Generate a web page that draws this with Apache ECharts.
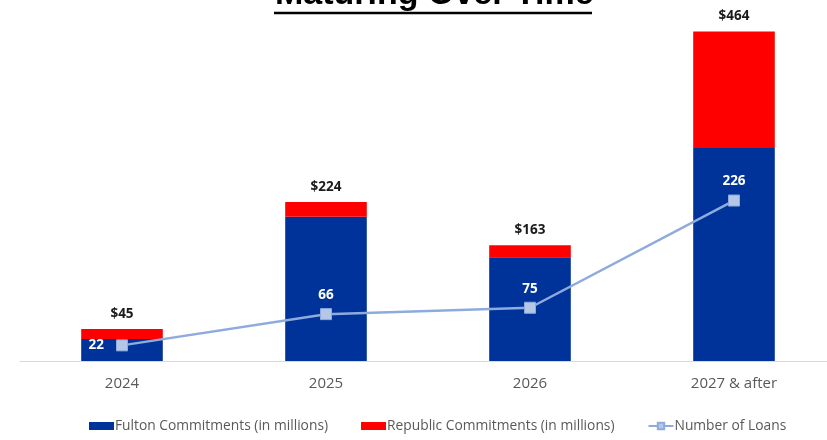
<!DOCTYPE html>
<html>
<head>
<meta charset="utf-8">
<script src="https://cdn.jsdelivr.net/npm/echarts@6/dist/echarts.min.js"></script>
<style>
  html, body { margin: 0; padding: 0; background: #fff; }
  #chart { width: 827px; height: 440px; }
</style>
</head>
<body>
<div id="chart"></div>
<script>
// Maturity buckets and commitments (in millions) plus loan counts
var categories = ['2024', '2025', '2026', '2027 & after'];
var fulton = [31, 203, 146, 300];
var republic = [14, 21, 17, 164];
var loans = [22, 66, 75, 226];

var font = '"Open Sans", "Liberation Sans", sans-serif';
var chart = echarts.init(document.getElementById('chart'), null, { renderer: 'canvas' });

var loanData = loans.map(function (v, i) {
  return {
    value: v,
    label: { position: i === 0 ? 'left' : 'top', distance: i === 0 ? 12 : 6 }
  };
});

chart.setOption({
  animation: false,
  backgroundColor: '#ffffff',
  graphic: [
    {
      type: 'text',
      left: 275,
      top: -22,
      style: {
        text: 'Maturing Over Time',
        font: 'bold 34px "Liberation Sans", sans-serif',
        fill: '#000000'
      }
    },
    {
      type: 'line',
      shape: { x1: 274, y1: 13, x2: 592, y2: 13 },
      style: { stroke: '#000000', lineWidth: 2.5 }
    }
  ],
  legend: {
    bottom: 2,
    left: 84,
    itemWidth: 25,
    itemHeight: 8,
    itemGap: 33,
    textStyle: { fontFamily: font, fontSize: 13.8, color: '#595959', padding: [0, 0, 0, -4] },
    data: [
      { name: 'Fulton Commitments (in millions)', icon: 'rect' },
      { name: 'Republic Commitments (in millions)', icon: 'rect' },
      { name: 'Number of Loans' }
    ]
  },
  grid: { left: 20, width: 816, top: 6, bottom: 79, outerBoundsMode: 'none', containLabel: false },
  xAxis: {
    type: 'category',
    data: categories,
    axisLine: { lineStyle: { color: '#d9d9d9', width: 1 } },
    axisTick: { show: false },
    axisLabel: { fontFamily: font, fontSize: 15, color: '#595959', margin: 15 }
  },
  yAxis: [
    { type: 'value', min: 0, max: 500, show: false, splitLine: { show: false } },
    { type: 'value', min: 0, max: 500, show: false, splitLine: { show: false } }
  ],
  series: [
    {
      name: 'Fulton Commitments (in millions)',
      type: 'bar',
      stack: 'c',
      barWidth: '40%',
      itemStyle: { color: '#003399' },
      data: fulton
    },
    {
      name: 'Republic Commitments (in millions)',
      type: 'bar',
      stack: 'c',
      itemStyle: { color: '#ff0000' },
      label: {
        show: true,
        position: 'top',
        distance: 8,
        fontFamily: font,
        fontWeight: 'bold',
        fontSize: 13.5,
        color: '#1a1a1a',
        formatter: function (p) {
          return '$' + (fulton[p.dataIndex] + republic[p.dataIndex]);
        }
      },
      data: republic
    },
    {
      name: 'Number of Loans',
      type: 'line',
      yAxisIndex: 1,
      symbol: 'rect',
      symbolSize: 11,
      lineStyle: { color: '#8faadc', width: 2.5 },
      itemStyle: { color: '#b4c7e7', borderColor: '#8faadc', borderWidth: 1 },
      label: {
        show: true,
        fontFamily: font,
        fontWeight: 'bold',
        fontSize: 13.5,
        color: '#ffffff'
      },
      z: 5,
      data: loanData
    }
  ]
});
</script>
</body>
</html>
